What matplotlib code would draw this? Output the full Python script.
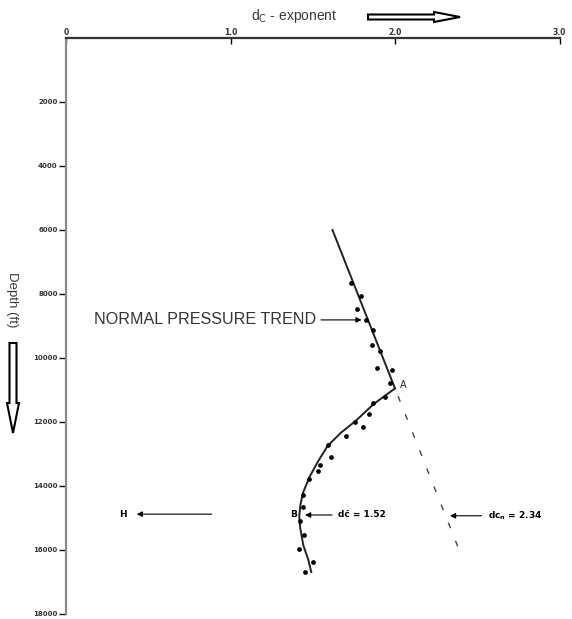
import matplotlib
matplotlib.use('Agg')
import matplotlib.pyplot as plt
from matplotlib.patches import FancyArrow
from matplotlib.transforms import IdentityTransform

# normal compaction trend (solid part, then dashed extrapolation)
trend_dc = [1.62, 2.00]
trend_depth = [6000, 10950]
trend_ext_dc = [2.00, 2.39]
trend_ext_depth = [10950, 16000]

# overpressure curve from A down through B
curve_dc = [2.00, 1.87, 1.76, 1.67, 1.59, 1.53, 1.48, 1.44, 1.425, 1.418, 1.424, 1.442, 1.473, 1.491]
curve_depth = [10950, 11440, 11970, 12340, 12750, 13250, 13720, 14220, 14590, 14940, 15310, 15840, 16310, 16690]

# measured dc points
pts_dc = [1.731, 1.793, 1.771, 1.824, 1.868, 1.858, 1.909, 1.889, 1.980, 1.970,
          1.939, 1.868, 1.844, 1.757, 1.807, 1.700, 1.595, 1.611, 1.544, 1.530,
          1.479, 1.443, 1.439, 1.422, 1.447, 1.418, 1.503, 1.453]
pts_depth = [7650, 8060, 8480, 8810, 9125, 9590, 9780, 10300, 10375, 10790,
             11210, 11400, 11760, 12010, 12160, 12440, 12710, 13100, 13340, 13530,
             13790, 14280, 14670, 15080, 15530, 15970, 16380, 16700]

x_ticks = [0, 1, 2, 3]
x_labels = ['0', '1.0', '2.0', '3.0']
y_ticks = [2000, 4000, 6000, 8000, 10000, 12000, 14000, 16000, 18000]

W, H = 572, 619
fig = plt.figure(figsize=(W / 100, H / 100), dpi=100)
ax = fig.add_axes([66 / W, 1 - 614 / H, (559.5 - 66) / W, (614 - 38) / H])

ax.plot(trend_dc, trend_depth, color='#222222', lw=1.4)
ax.plot(trend_ext_dc, trend_ext_depth, color='#444444', lw=1.0, linestyle=(8, (4.3, 9.7)))
ax.plot(curve_dc, curve_depth, color='#222222', lw=1.4)
ax.plot(pts_dc, pts_depth, 'o', color='black', ms=2.4, ls='none')

ax.set_xlim(0, 3)
ax.set_ylim(18000, 0)
ax.xaxis.tick_top()
ax.set_xticks(x_ticks)
ax.set_xticklabels(x_labels, fontsize=5.5, fontweight='bold', color='#333333')
ax.set_yticks(y_ticks)
ax.set_yticklabels([str(v) for v in y_ticks], fontsize=5, fontweight='bold', color='#333333')
ax.tick_params(axis='x', direction='in', length=4, width=1, pad=1)
ax.tick_params(axis='y', direction='out', length=5, width=1, pad=1)
for s in ['right', 'bottom']:
    ax.spines[s].set_visible(False)
ax.spines['top'].set_linewidth(1.6)
ax.spines['top'].set_color('#333333')
ax.spines['left'].set_linewidth(1.6)
ax.spines['left'].set_color('#8a8a8a')

arr = dict(arrowstyle='-|>', color='black', lw=0.8, mutation_scale=8, shrinkA=0, shrinkB=0)

ax.text(1.52, 8810, 'NORMAL PRESSURE TREND', ha='right', va='center',
        fontsize=11.6, color='#333333', family='Liberation Sans')
ax.annotate('', xy=(1.797, 8810), xytext=(1.55, 8810), arrowprops=arr)

ax.text(2.03, 10840, 'A', ha='left', va='center', fontsize=7, color='#222222')

ax.text(1.382, 14906, 'B', ha='center', va='center', fontsize=6.5, fontweight='bold')
ax.annotate('', xy=(1.453, 14906), xytext=(1.617, 14906), arrowprops=arr)
ax.text(1.653, 14906, 'd\u010b = 1.52', ha='left', va='center',
        fontsize=6.5, fontweight='bold')

ax.annotate('', xy=(2.334, 14930), xytext=(2.527, 14930), arrowprops=arr)
ax.text(2.567, 14930, r'dc$_{\mathbf{n}}$ = 2.34', ha='left', va='center',
        fontsize=6.5, fontweight='bold')

ax.text(0.348, 14880, 'H', ha='center', va='center', fontsize=6.5, fontweight='bold')
ax.annotate('', xy=(0.43, 14880), xytext=(0.886, 14880), arrowprops=arr)

# axis titles with hollow arrows
fig.text(294 / W, 1 - 16 / H, r'd$_{\mathrm{C}}$ - exponent', ha='center', va='center',
         fontsize=10, color='#3a3a3a', family='Liberation Sans')
fig.text(12 / W, 1 - 300 / H, 'Depth (ft)', rotation=270, ha='center', va='center',
         fontsize=9.5, color='#3a3a3a', family='Liberation Sans')

fig.patches.append(FancyArrow(368, H - 17, 92, 0, width=5, head_width=10, head_length=26,
                              length_includes_head=True, fc='white', ec='black', lw=1.5,
                              transform=IdentityTransform(), figure=fig))
fig.patches.append(FancyArrow(13, H - 343, 0, -90, width=7, head_width=12, head_length=30,
                              length_includes_head=True, fc='white', ec='black', lw=1.5,
                              transform=IdentityTransform(), figure=fig))

fig.savefig('out.png', dpi=100)
